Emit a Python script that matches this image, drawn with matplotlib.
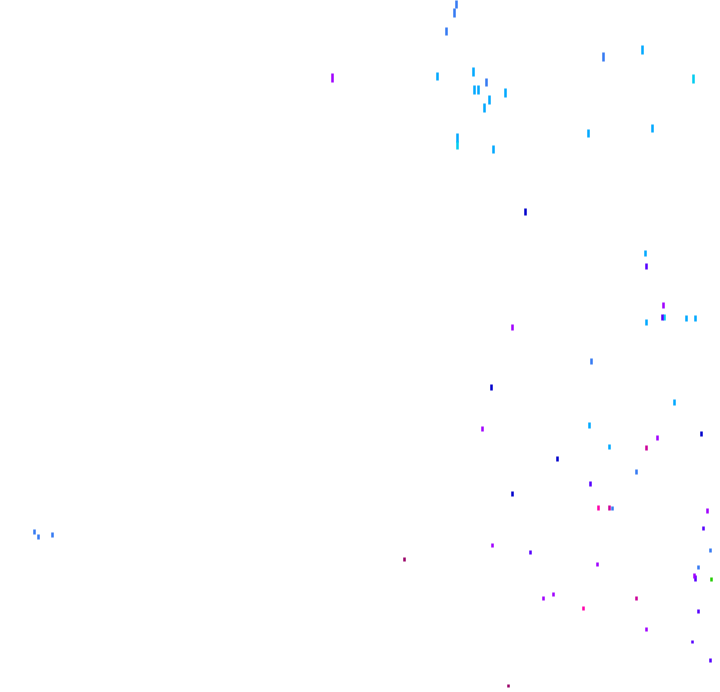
import matplotlib
matplotlib.use("Agg")
import matplotlib.pyplot as plt

# marks per colour group: x, top, bottom (in picture units)
blue_x = [456, 454, 446, 486, 603, 34, 38, 52, 710, 698, 636, 612, 591]
blue_top = [0, 8, 27, 78, 52, 529, 534, 532, 548, 565, 469, 506, 358]
blue_bot = [8, 17, 35, 86, 61, 534, 539, 537, 552, 569, 474, 510, 364]

cyan_x = [437, 473, 474, 478, 489, 505, 484, 457, 493, 642, 652, 588, 645, 686, 695, 646, 674, 589, 609]
cyan_top = [72, 67, 85, 85, 95, 88, 103, 133, 145, 45, 124, 129, 250, 315, 315, 319, 399, 422, 444]
cyan_bot = [80, 76, 94, 94, 104, 97, 112, 142, 153, 54, 132, 137, 256, 321, 321, 325, 405, 428, 449]

lcyan_x = [457, 693, 664]
lcyan_top = [141, 74, 314]
lcyan_bot = [149, 83, 320]

dblue_x = [525, 491, 701, 557, 512]
dblue_top = [208, 384, 431, 456, 491]
dblue_bot = [215, 390, 436, 461, 496]

violet_x = [646, 662, 703, 698, 692, 710, 590, 530, 695]
violet_top = [263, 314, 526, 609, 640, 658, 481, 550, 575]
violet_bot = [269, 320, 530, 613, 643, 662, 486, 554, 581]

purple_x = [332, 663, 707, 512, 482, 657, 492, 597, 553, 543, 646, 694]
purple_top = [73, 302, 508, 324, 426, 435, 543, 562, 592, 596, 627, 573]
purple_bot = [82, 308, 513, 330, 431, 440, 547, 566, 596, 600, 631, 578]

magenta_x = [646, 636, 609]
magenta_top = [445, 596, 505]
magenta_bot = [450, 600, 510]

pink_x = [598, 583]
pink_top = [505, 606]
pink_bot = [510, 610]

dmag_x = [404, 508]
dmag_top = [557, 684]
dmag_bot = [561, 687]

green_x = [711]
green_top = [577]
green_bot = [581]

groups = [
    (blue_x, blue_top, blue_bot, "#3479f2"),
    (cyan_x, cyan_top, cyan_bot, "#00a8ff"),
    (lcyan_x, lcyan_top, lcyan_bot, "#00ccf0"),
    (dblue_x, dblue_top, dblue_bot, "#0000cc"),
    (violet_x, violet_top, violet_bot, "#5500ff"),
    (purple_x, purple_top, purple_bot, "#a000ff"),
    (magenta_x, magenta_top, magenta_bot, "#cc0099"),
    (pink_x, pink_top, pink_bot, "#ff00aa"),
    (dmag_x, dmag_top, dmag_bot, "#990066"),
    (green_x, green_top, green_bot, "#22cc00"),
]

fig = plt.figure(figsize=(7.2, 6.92), dpi=100)
ax = fig.add_axes([0, 0, 1, 1])
for xs, tops, bots, col in groups:
    ax.vlines(xs, tops, bots, colors=col, linewidth=1.8)
ax.set_xlim(0, 720)
ax.set_ylim(692, 0)
ax.axis("off")
fig.savefig("out.png", dpi=100, facecolor="white")
